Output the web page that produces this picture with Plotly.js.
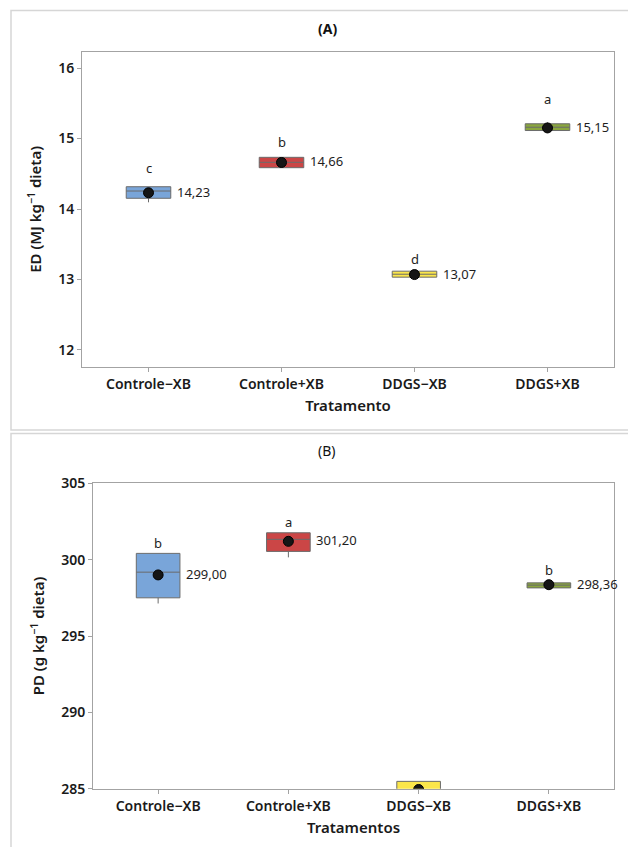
<!DOCTYPE html>
<html>
<head>
<meta charset="utf-8">
<script src="https://cdn.plot.ly/plotly-3.0.1.min.js"></script>
<style>html,body{margin:0;padding:0;background:#fff;}#chart{width:628px;height:847px;}</style>
</head>
<body>
<div id="chart"></div>
<script>
// ---- Data ----
const categories = ["Controle\u2212XB", "Controle+XB", "DDGS\u2212XB", "DDGS+XB"];
const boxColors = ["#79A5D9", "#CB4646", "#FBE64A", "#8AA63E"];

// Panel A: ED (MJ kg-1 dieta)
const edLower  = [14.095, 14.586, 13.033, 15.113];
const edQ1     = [14.152, 14.586, 13.033, 15.113];
const edMedian = [14.255, 14.662, 13.075, 15.160];
const edQ3     = [14.316, 14.733, 13.118, 15.209];
const edUpper  = [14.316, 14.733, 13.118, 15.230];
const edMean   = [14.23, 14.66, 13.07, 15.15];
const edMeanLabels = ["14,23", "14,66", "13,07", "15,15"];
const edLetters = ["c", "b", "d", "a"];
const edLetterY = [14.58, 14.955, 13.284, 15.567];

// Panel B: PD (g kg-1 dieta)
const pdLower  = [297.13, 300.15, 284.0, 298.15];
const pdQ1     = [297.50, 300.54, 284.3, 298.15];
const pdMedian = [299.18, 301.33, 284.9, 298.33];
const pdQ3     = [300.41, 301.76, 285.48, 298.48];
const pdUpper  = [300.41, 301.76, 285.48, 298.48];
const pdMean   = [299.00, 301.20, 284.95, 298.36];
const pdMeanLabels = ["299,00", "301,20", "", "298,36"];
const pdLetters = ["b", "a", "", "b"];
const pdLetterY = [301.1, 302.44, null, 299.31];

// ---- Build traces ----
const FONT = "Noto Sans, Open Sans, sans-serif";
const traces = [];
const annotations = [];

function addPanel(xa, ya, lower, q1, med, q3, upper, mean, labels, letters, letterY) {
  categories.forEach((c, i) => {
    traces.push({
      type: "box", x: [c], q1: [q1[i]], median: [med[i]], q3: [q3[i]],
      lowerfence: [lower[i]], upperfence: [upper[i]],
      xaxis: xa, yaxis: ya, width: 0.335, whiskerwidth: 0,
      fillcolor: boxColors[i], line: {color: "#6b6b6b", width: 1},
      boxpoints: false, hoverinfo: "skip", showlegend: false
    });
  });
  traces.push({
    type: "scatter", mode: "markers", x: categories, y: mean,
    xaxis: xa, yaxis: ya, showlegend: false, hoverinfo: "skip",
    marker: {size: 10, color: "#151515", line: {color: "#000", width: 1}}
  });
  categories.forEach((c, i) => {
    if (labels[i]) annotations.push({
      xref: xa, yref: ya, x: i + 0.1675, y: mean[i], xanchor: "left", yanchor: "middle",
      xshift: 4, yshift: 1, text: labels[i], showarrow: false,
      font: {family: FONT, size: 13, color: "#1e1e1e"}
    });
    if (letters[i]) annotations.push({
      xref: xa, yref: ya, x: i, y: letterY[i], xanchor: "center", yanchor: "middle",
      text: letters[i], showarrow: false,
      font: {family: FONT, size: 13, color: "#1e1e1e"}
    });
  });
}

addPanel("x", "y", edLower, edQ1, edMedian, edQ3, edUpper, edMean, edMeanLabels, edLetters, edLetterY);
addPanel("x2", "y2", pdLower, pdQ1, pdMedian, pdQ3, pdUpper, pdMean, pdMeanLabels, pdLetters, pdLetterY);

// Panel titles
annotations.push({xref: "paper", yref: "paper", x: 327/628, y: 1 - 28/847, text: "<b>(A)</b>",
  showarrow: false, xanchor: "center", yanchor: "middle", font: {family: FONT, size: 14, color: "#111"}});
annotations.push({xref: "paper", yref: "paper", x: 327/628, y: 1 - 450/847, text: "(B)",
  showarrow: false, xanchor: "center", yanchor: "middle", font: {family: FONT, size: 14, color: "#111"}});

const axisCommon = {
  showline: true, mirror: true, linecolor: "#a3a3a3", linewidth: 1,
  ticks: "outside", ticklen: 4, tickcolor: "#a3a3a3", tickwidth: 1,
  showgrid: false, zeroline: false, automargin: false,
  tickfont: {family: FONT, size: 14, color: "#1a1a1a", weight: 600}
};

const layout = {
  width: 628, height: 847,
  margin: {l: 0, r: 0, t: 0, b: 0},
  paper_bgcolor: "#ffffff", plot_bgcolor: "#ffffff",
  boxmode: "overlay", showlegend: false,
  xaxis: Object.assign({}, axisCommon, {
    domain: [82/628, 614/628], anchor: "y", type: "category",
    categoryorder: "array", categoryarray: categories, range: [-0.5, 3.5],
    title: {text: "Tratamento", standoff: 8, font: {family: FONT, size: 15, color: "#1a1a1a", weight: 600}}
  }),
  yaxis: Object.assign({}, axisCommon, {
    domain: [1 - 366.7/847, 1 - 52/847], anchor: "x",
    range: [11.763, 16.227], tickvals: [12, 13, 14, 15, 16],
    title: {text: "ED (MJ kg<sup>\u22121</sup> dieta)", standoff: 12, font: {family: FONT, size: 15, color: "#1a1a1a", weight: 600}}
  }),
  xaxis2: Object.assign({}, axisCommon, {
    domain: [93/628, 614/628], anchor: "y2", type: "category",
    categoryorder: "array", categoryarray: categories, range: [-0.5, 3.5],
    title: {text: "Tratamentos", standoff: 8, font: {family: FONT, size: 15, color: "#1a1a1a", weight: 600}}
  }),
  yaxis2: Object.assign({}, axisCommon, {
    domain: [1 - 788.7/847, 1 - 483.3/847], anchor: "x2",
    range: [285, 305], tickvals: [285, 290, 295, 300, 305],
    title: {text: "PD (g kg<sup>\u22121</sup> dieta)", standoff: 12, font: {family: FONT, size: 15, color: "#1a1a1a", weight: 600}}
  }),
  shapes: [
    {type: "rect", xref: "paper", yref: "paper", x0: 11/628, x1: 1.05, y0: 1 - 430/847, y1: 1 - 10.5/847,
     line: {color: "#d6d6d6", width: 1.5}, fillcolor: "rgba(0,0,0,0)", layer: "below"},
    {type: "rect", xref: "paper", yref: "paper", x0: 11/628, x1: 1.05, y0: -0.05, y1: 1 - 433.5/847,
     line: {color: "#d6d6d6", width: 1.5}, fillcolor: "rgba(0,0,0,0)", layer: "below"}
  ],
  annotations: annotations
};

Plotly.newPlot("chart", traces, layout, {staticPlot: true, displayModeBar: false});
</script>
</body>
</html>
